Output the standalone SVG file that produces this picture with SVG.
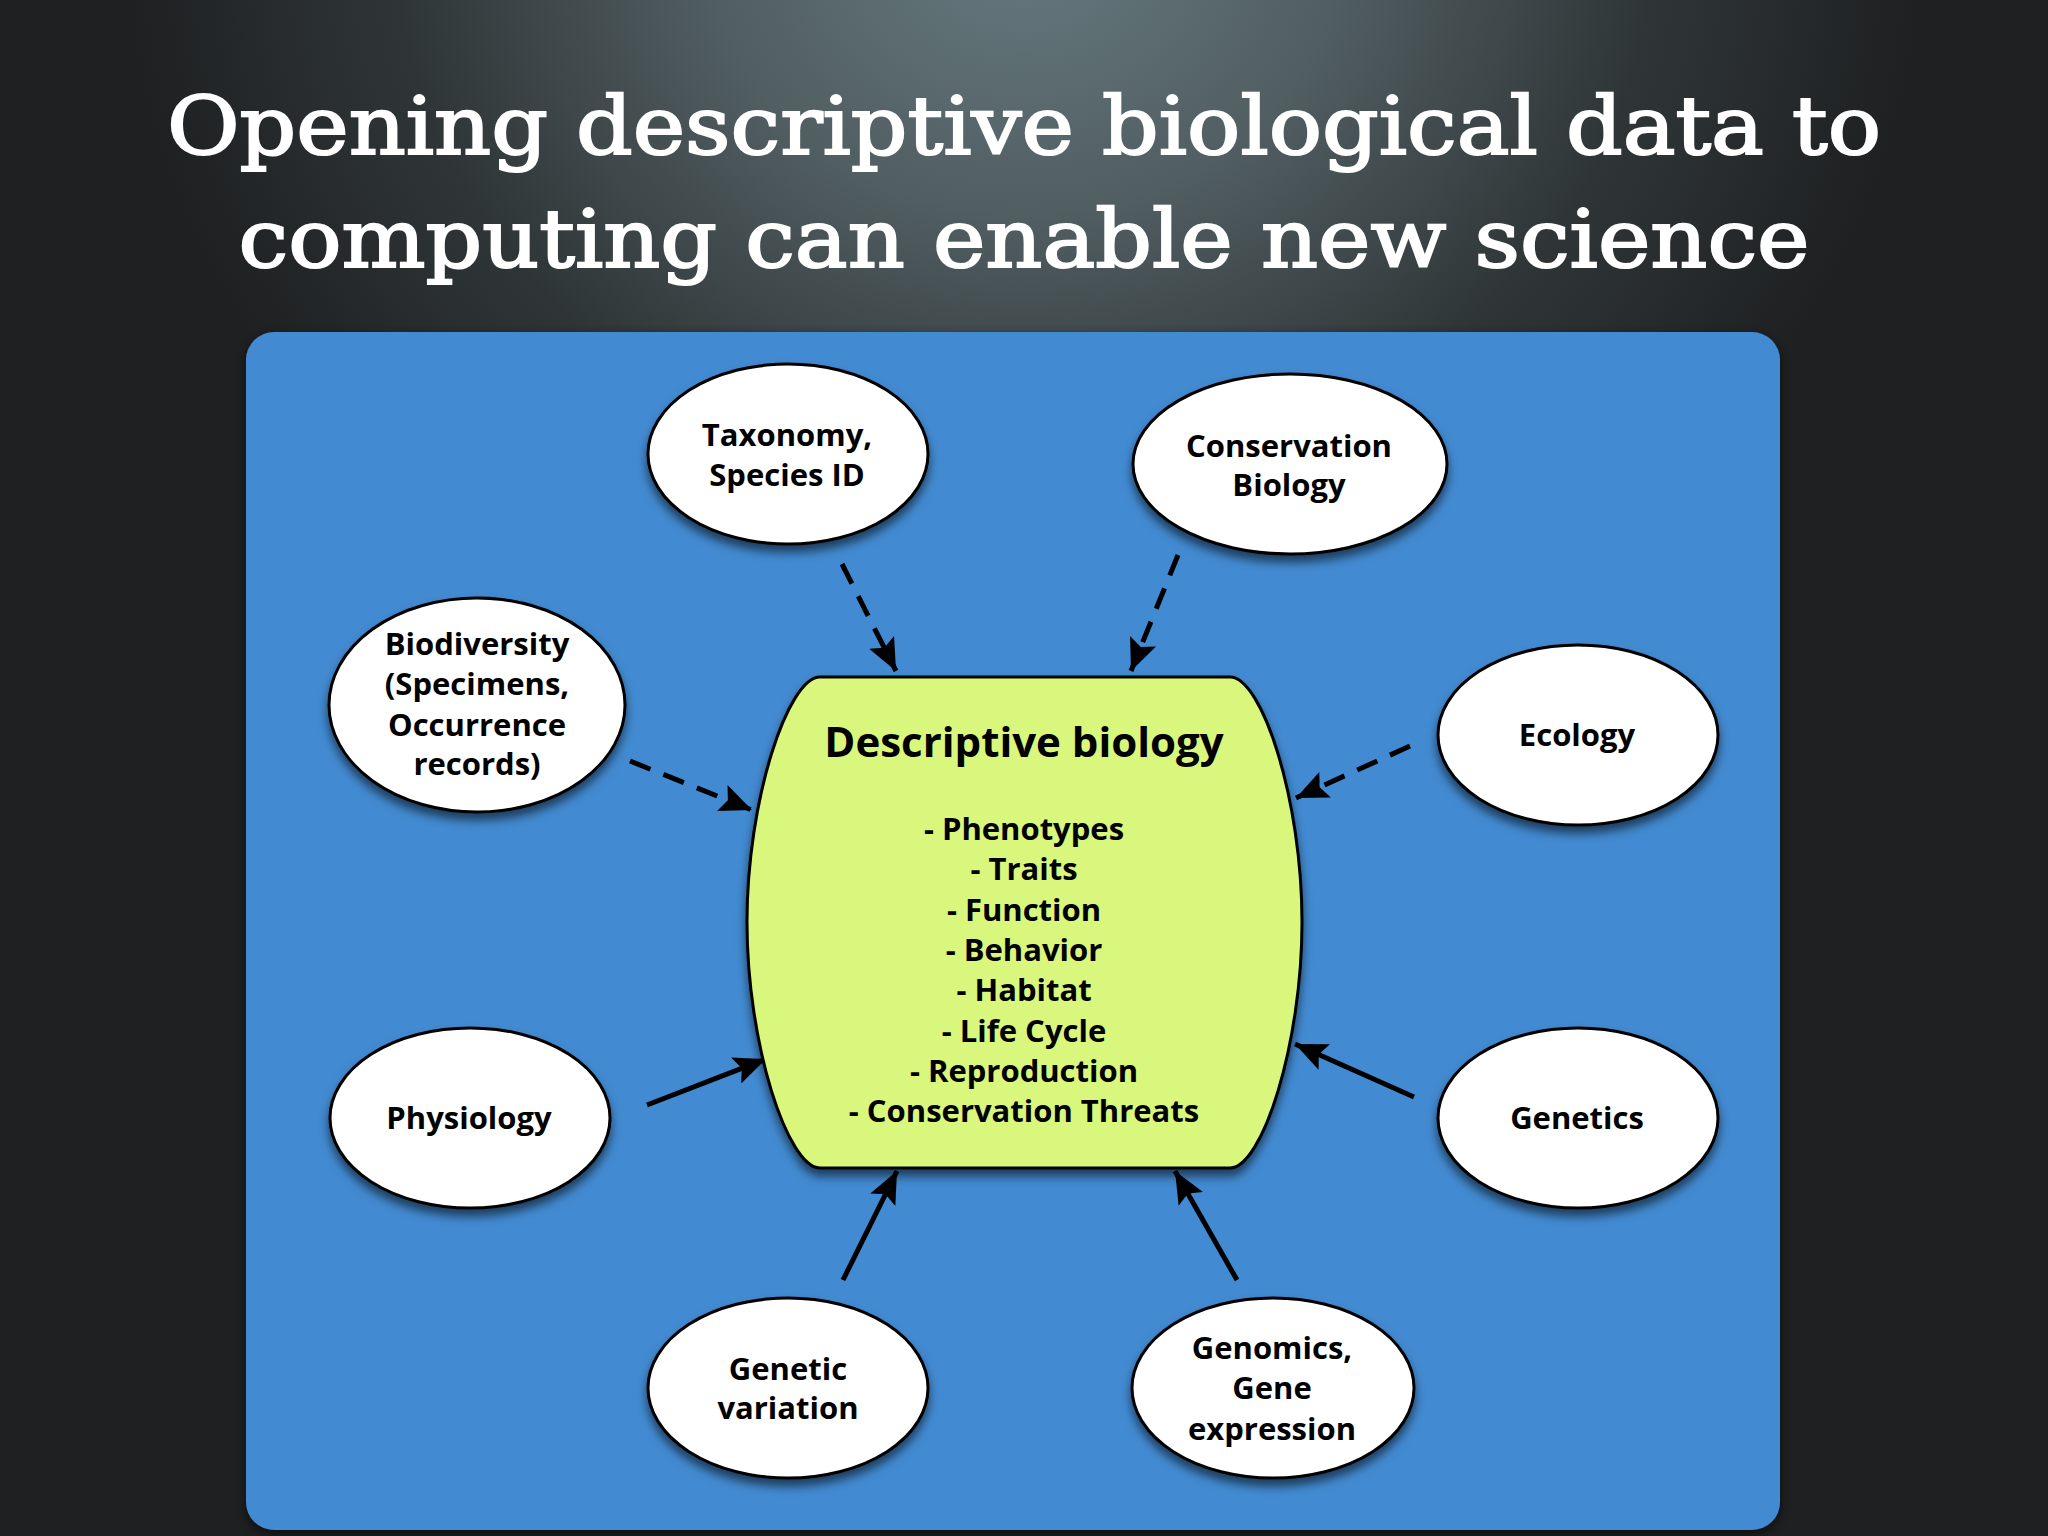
<svg xmlns="http://www.w3.org/2000/svg" width="2048" height="1536" viewBox="0 0 2048 1536">
  <defs>
    <radialGradient id="bg" cx="0" cy="0" r="1" gradientUnits="userSpaceOnUse" gradientTransform="translate(1024,-60) scale(900,780)">
      <stop offset="0" stop-color="#667a80"/>
      <stop offset="0.35" stop-color="#515e62"/>
      <stop offset="0.7" stop-color="#2f3537"/>
      <stop offset="1" stop-color="#1e2021"/>
    </radialGradient>
    <filter id="shadow" x="-20%" y="-20%" width="140%" height="150%">
      <feDropShadow dx="0" dy="7" stdDeviation="5" flood-color="#000" flood-opacity="0.55"/>
    </filter>
    <filter id="pshadow" x="-5%" y="-5%" width="110%" height="110%">
      <feDropShadow dx="0" dy="4" stdDeviation="6" flood-color="#000" flood-opacity="0.6"/>
    </filter>
    <marker id="ah" markerUnits="userSpaceOnUse" markerWidth="34" markerHeight="28" refX="32" refY="14" orient="auto">
      <path d="M0,0 L32,14 L0,28 L6,14 Z" fill="#000"/>
    </marker>
    <style>
      .node ellipse { fill: #ffffff; stroke: #000; stroke-width: 3; filter: url(#shadow); }
      .lbl { font-family: "Open Sans", "DejaVu Sans", sans-serif; font-weight: 700; font-size: 31px; fill: #000; text-anchor: middle; }
      .head { font-family: "Open Sans", "DejaVu Sans", sans-serif; font-weight: 700; font-size: 42px; fill: #000; text-anchor: middle; }
      .title { font-family: "DejaVu Serif", "Liberation Serif", serif; font-weight: normal; font-size: 80px; fill: #fff; stroke: #fff; stroke-width: 2; text-anchor: middle; }
      .conn line { stroke: #000; stroke-width: 5; fill: none; marker-end: url(#ah); }
      .dash { stroke-dasharray: 22 14; }
    </style>
  </defs>

  <rect x="0" y="0" width="2048" height="1536" fill="url(#bg)"/>

  <g id="title">
    <text class="title" x="1024" y="154" textLength="1714" lengthAdjust="spacingAndGlyphs">Opening descriptive biological data to</text>
    <text class="title" x="1024" y="267" textLength="1571" lengthAdjust="spacingAndGlyphs">computing can enable new science</text>
  </g>

  <rect id="panel" x="246" y="332" width="1534" height="1198" rx="28" ry="28" fill="#438ad1" filter="url(#pshadow)"/>

  <g id="connectors" class="conn">
    <line class="dash" x1="842" y1="564" x2="896" y2="671"/>
    <line class="dash" x1="1178" y1="555" x2="1131" y2="671"/>
    <line class="dash" x1="630" y1="761" x2="752" y2="810"/>
    <line class="dash" x1="1410" y1="746" x2="1296" y2="798"/>
    <line x1="647" y1="1105" x2="766" y2="1059"/>
    <line x1="1414" y1="1097" x2="1295" y2="1044"/>
    <line x1="843" y1="1280" x2="897" y2="1171"/>
    <line x1="1237" y1="1280" x2="1175" y2="1171"/>
  </g>

  <g id="descriptive-biology">
    <path d="M820,677 H1230 C1262,677 1302,800 1302,922 C1302,1045 1262,1168 1230,1168 H820 C788,1168 747,1045 747,922 C747,800 788,677 820,677 Z" fill="#d9f77c" stroke="#000" stroke-width="3" filter="url(#shadow)"/>
    <text class="head" x="1024" y="757">Descriptive biology</text>
    <text class="lbl" x="1024" y="840">- Phenotypes</text>
    <text class="lbl" x="1024" y="880">- Traits</text>
    <text class="lbl" x="1024" y="921">- Function</text>
    <text class="lbl" x="1024" y="961">- Behavior</text>
    <text class="lbl" x="1024" y="1001">- Habitat</text>
    <text class="lbl" x="1024" y="1042">- Life Cycle</text>
    <text class="lbl" x="1024" y="1082">- Reproduction</text>
    <text class="lbl" x="1024" y="1122">- Conservation Threats</text>
  </g>

  <g id="taxonomy" class="node">
    <ellipse cx="788" cy="454" rx="140" ry="90"/>
    <text class="lbl" x="787" y="446">Taxonomy,</text>
    <text class="lbl" x="787" y="486">Species ID</text>
  </g>

  <g id="conservation-biology" class="node">
    <ellipse cx="1290" cy="464" rx="157" ry="90"/>
    <text class="lbl" x="1289" y="457">Conservation</text>
    <text class="lbl" x="1289" y="496">Biology</text>
  </g>

  <g id="biodiversity" class="node">
    <ellipse cx="477" cy="705" rx="148" ry="107"/>
    <text class="lbl" x="477" y="655">Biodiversity</text>
    <text class="lbl" x="477" y="695">(Specimens,</text>
    <text class="lbl" x="477" y="736">Occurrence</text>
    <text class="lbl" x="477" y="775">records)</text>
  </g>

  <g id="ecology" class="node">
    <ellipse cx="1578" cy="735" rx="140" ry="90"/>
    <text class="lbl" x="1577" y="746">Ecology</text>
  </g>

  <g id="physiology" class="node">
    <ellipse cx="470" cy="1118" rx="140" ry="90"/>
    <text class="lbl" x="469" y="1129">Physiology</text>
  </g>

  <g id="genetics" class="node">
    <ellipse cx="1578" cy="1118" rx="140" ry="90"/>
    <text class="lbl" x="1577" y="1129">Genetics</text>
  </g>

  <g id="genetic-variation" class="node">
    <ellipse cx="788" cy="1388" rx="140" ry="90"/>
    <text class="lbl" x="788" y="1380">Genetic</text>
    <text class="lbl" x="788" y="1419">variation</text>
  </g>

  <g id="genomics" class="node">
    <ellipse cx="1273" cy="1388" rx="141" ry="90"/>
    <text class="lbl" x="1272" y="1359">Genomics,</text>
    <text class="lbl" x="1272" y="1399">Gene</text>
    <text class="lbl" x="1272" y="1440">expression</text>
  </g>
</svg>
